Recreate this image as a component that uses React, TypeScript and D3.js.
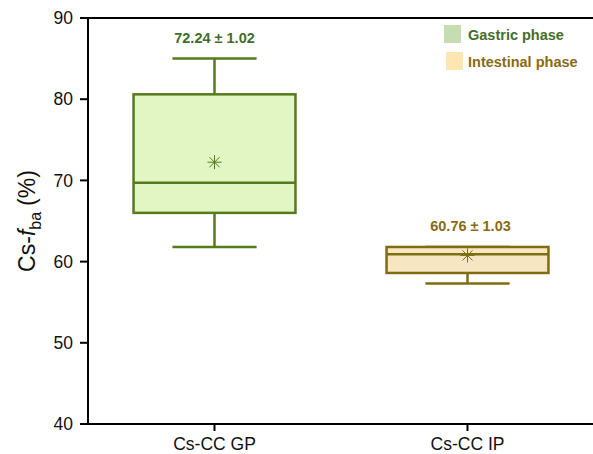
import React from "react";
import * as d3 from "d3";

const groups = ["Cs-CC GP", "Cs-CC IP"];
const whiskerLow = [61.8, 57.3];
const q1 = [66.0, 58.6];
const median = [69.7, 60.9];
const q3 = [80.6, 61.8];
const whiskerHigh = [85.0, 61.8];
const means = [72.24, 60.76];
const meanLabels = ["72.24 ± 1.02", "60.76 ± 1.03"];
const yTicks = [40, 50, 60, 70, 80, 90];
const legendNames = ["Gastric phase", "Intestinal phase"];

const strokeColors = ["#557b1c", "#7f6d12"];
const fillColors = ["#e1f6c2", "#f7e6c2"];
const labelColors = ["#456d2a", "#8a6a12"];
const swatchColors = ["#c6ddb2", "#fde6b2"];

const width = 593;
const height = 454;
const left = 88;
const top = 18;
const bottom = 424;
const right = 594;

const App = () => {
  const y = d3.scaleLinear().domain([40, 90]).range([bottom, top]);
  const x = d3.scaleBand().domain(groups).range([left, right]).paddingInner(0.36).paddingOuter(0.18);
  const bw = x.bandwidth();
  const font = "Arial, 'Liberation Sans', sans-serif";

  return (
    <svg width={width} height={height} style={{ position: "absolute", left: 0, top: 0 }} fontFamily={font}>
      {groups.map((g, i) => {
        const cx = (x(g) as number) + bw / 2;
        const x0 = x(g) as number;
        const cap = bw * 0.26;
        const my = y(means[i]);
        const s = 7;
        return (
          <g key={g}>
            <line x1={cx} x2={cx} y1={y(whiskerHigh[i])} y2={y(q3[i])} stroke={strokeColors[i]} strokeWidth={2.5} />
            <line x1={cx} x2={cx} y1={y(q1[i])} y2={y(whiskerLow[i])} stroke={strokeColors[i]} strokeWidth={2.5} />
            <line x1={cx - cap} x2={cx + cap} y1={y(whiskerHigh[i])} y2={y(whiskerHigh[i])} stroke={strokeColors[i]} strokeWidth={2.5} />
            <line x1={cx - cap} x2={cx + cap} y1={y(whiskerLow[i])} y2={y(whiskerLow[i])} stroke={strokeColors[i]} strokeWidth={2.5} />
            <rect x={x0} y={y(q3[i])} width={bw} height={y(q1[i]) - y(q3[i])} fill={fillColors[i]} stroke={strokeColors[i]} strokeWidth={2.5} />
            <line x1={x0} x2={x0 + bw} y1={y(median[i])} y2={y(median[i])} stroke={strokeColors[i]} strokeWidth={2.5} />
            <g stroke={strokeColors[i]} strokeWidth={1}>
              <line x1={cx - s} x2={cx + s} y1={my} y2={my} />
              <line x1={cx} x2={cx} y1={my - s} y2={my + s} />
              <line x1={cx - s * 0.72} x2={cx + s * 0.72} y1={my - s * 0.72} y2={my + s * 0.72} />
              <line x1={cx - s * 0.72} x2={cx + s * 0.72} y1={my + s * 0.72} y2={my - s * 0.72} />
            </g>
            <text x={cx + i * 3} y={y(whiskerHigh[i]) - 16} textAnchor="middle" fontSize={14.5} fontWeight="bold" fill={labelColors[i]}>
              {meanLabels[i]}
            </text>
            <line x1={cx} x2={cx} y1={bottom} y2={bottom + 7} stroke="#000" strokeWidth={2} />
            <text x={cx} y={bottom + 26} textAnchor="middle" fontSize={17.5} fill="#111">
              {g}
            </text>
          </g>
        );
      })}
      <line x1={left} x2={left} y1={top - 1} y2={bottom + 1} stroke="#000" strokeWidth={2} />
      <line x1={left - 1} x2={right} y1={bottom} y2={bottom} stroke="#000" strokeWidth={2} />
      <line x1={left - 1} x2={right} y1={top} y2={top} stroke="#000" strokeWidth={2} />
      {yTicks.map((t) => (
        <g key={t}>
          <line x1={left - 8} x2={left} y1={y(t)} y2={y(t)} stroke="#000" strokeWidth={2} />
          <text x={left - 15} y={y(t)} dy="0.35em" textAnchor="end" fontSize={17.5} fill="#111">
            {t}
          </text>
        </g>
      ))}
      <text transform={`translate(35, 221) rotate(-90)`} textAnchor="middle" fontSize={23} fill="#111">
        Cs-<tspan fontStyle="italic">f</tspan>
        <tspan fontSize={16} dy={6}>ba</tspan>
        <tspan dy={-6} dx={6}>(%)</tspan>
      </text>
      {legendNames.map((n, i) => (
        <g key={n}>
          <rect x={444 + i * 2} y={25 + i * 27} width={17} height={18} fill={swatchColors[i]} />
          <text x={468} y={39.5 + i * 27.5} fontSize={14.5} fontWeight="bold" fill={labelColors[i]}>
            {n}
          </text>
        </g>
      ))}
    </svg>
  );
};

export default App;
